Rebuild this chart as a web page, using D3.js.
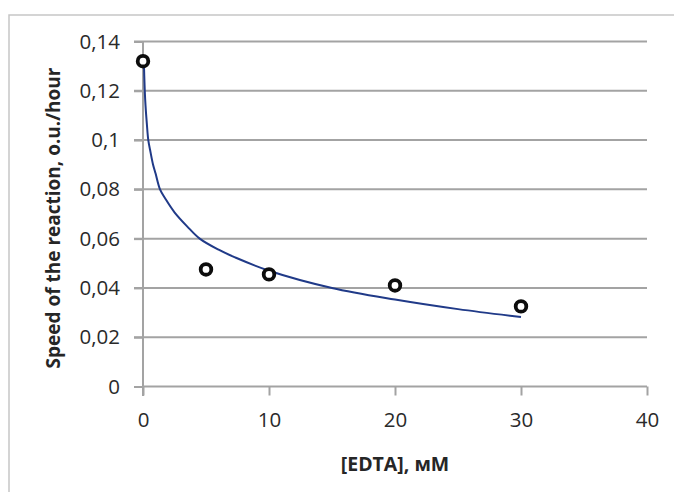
<!DOCTYPE html>
<html><head><meta charset="utf-8">
<script src="https://cdn.jsdelivr.net/npm/d3@7"></script>
<style>body{margin:0;background:#fff}svg{display:block}</style>
</head><body>
<svg id="c" width="674" height="492"></svg>
<script>
// Measured data points
const edta = [0, 5, 10, 20, 30];
const speed = [0.132, 0.0475, 0.0455, 0.041, 0.0325];
// Trend curve
const curveX = [0.07, 0.1, 0.14, 0.2, 0.3, 0.42, 0.6, 0.8, 1, 1.35, 1.8, 2.5, 3.5, 4.5, 6, 7.3, 10, 15, 20, 25, 30];
const curveY = [0.132, 0.126, 0.120, 0.114, 0.107, 0.100, 0.095, 0.090, 0.0864, 0.080, 0.076, 0.0707, 0.065, 0.060, 0.0555, 0.0524, 0.047, 0.040, 0.0353, 0.0314, 0.0282];
const xTicks = [0, 10, 20, 30, 40];
const yTicks = [0, 0.02, 0.04, 0.06, 0.08, 0.1, 0.12, 0.14];
const xTitle = "[EDTA], мМ";
const yTitle = "Speed of the reaction, o.u./hour";

const svg = d3.select("#c");
const font = "'Open Sans', sans-serif";
// chart border
svg.append("rect").attr("x", 9).attr("y", 15).attr("width", 680).attr("height", 500)
  .attr("fill", "none").attr("stroke", "#c6c6c6").attr("stroke-width", 1.5);

const x = d3.scaleLinear().domain([0, 40]).range([143, 647]);
const y = d3.scaleLinear().domain([0, 0.14]).range([386.5, 41.5]);
const fmt = d => d === 0 ? "0" : String(+d.toFixed(2)).replace(".", ",");

// gridlines
svg.append("g").selectAll("line").data(yTicks.filter(d => d > 0)).join("line")
  .attr("x1", 134).attr("x2", 647).attr("y1", d => y(d)).attr("y2", d => y(d))
  .attr("stroke", "#a3a3a3").attr("stroke-width", 2);

// y axis
const yAxis = svg.append("g").attr("transform", "translate(143,0)")
  .call(d3.axisLeft(y).tickValues(yTicks).tickFormat(fmt).tickSize(9).tickPadding(14));
// x axis
const xAxis = svg.append("g").attr("transform", "translate(0,386.5)")
  .call(d3.axisBottom(x).tickValues(xTicks).tickFormat(d => d).tickSize(9).tickPadding(17));
[yAxis, xAxis].forEach(a => {
  a.select(".domain").attr("stroke", "#a3a3a3").attr("stroke-width", 2);
  a.selectAll(".tick line").attr("stroke", "#a3a3a3").attr("stroke-width", 2);
  a.selectAll("text").attr("fill", "#2a2a2a").style("font-family", font).style("font-size", "20.5px");
});
yAxis.select(".domain").attr("d", "M0,386.5V41.5");
xAxis.select(".domain").attr("d", "M143,0H647");
svg.append("line").attr("x1", 143).attr("x2", 143).attr("y1", 386.5).attr("y2", 396)
  .attr("stroke", "#a3a3a3").attr("stroke-width", 2);

// trend curve
const line = d3.line().x((d, i) => x(curveX[i])).y(d => y(d)).curve(d3.curveCatmullRom.alpha(0.5));
svg.append("path").attr("d", line(curveY)).attr("fill", "none")
  .attr("stroke", "#203a88").attr("stroke-width", 2);

// markers
svg.append("g").selectAll("circle").data(speed).join("circle")
  .attr("cx", (d, i) => x(edta[i])).attr("cy", d => y(d)).attr("r", 5.3)
  .attr("fill", "#fff").attr("stroke", "#0d0d0d").attr("stroke-width", 3.8);

// titles
svg.append("text").attr("x", 395).attr("y", 471).attr("text-anchor", "middle")
  .style("font-family", font).style("font-weight", "bold").style("font-size", "19.5px")
  .attr("fill", "#262626").text(xTitle);
svg.append("text").attr("transform", "translate(60,218) rotate(-90)").attr("text-anchor", "middle")
  .style("font-family", font).style("font-weight", "bold").style("font-size", "19px")
  .attr("fill", "#262626").text(yTitle);
</script>
</body></html>
